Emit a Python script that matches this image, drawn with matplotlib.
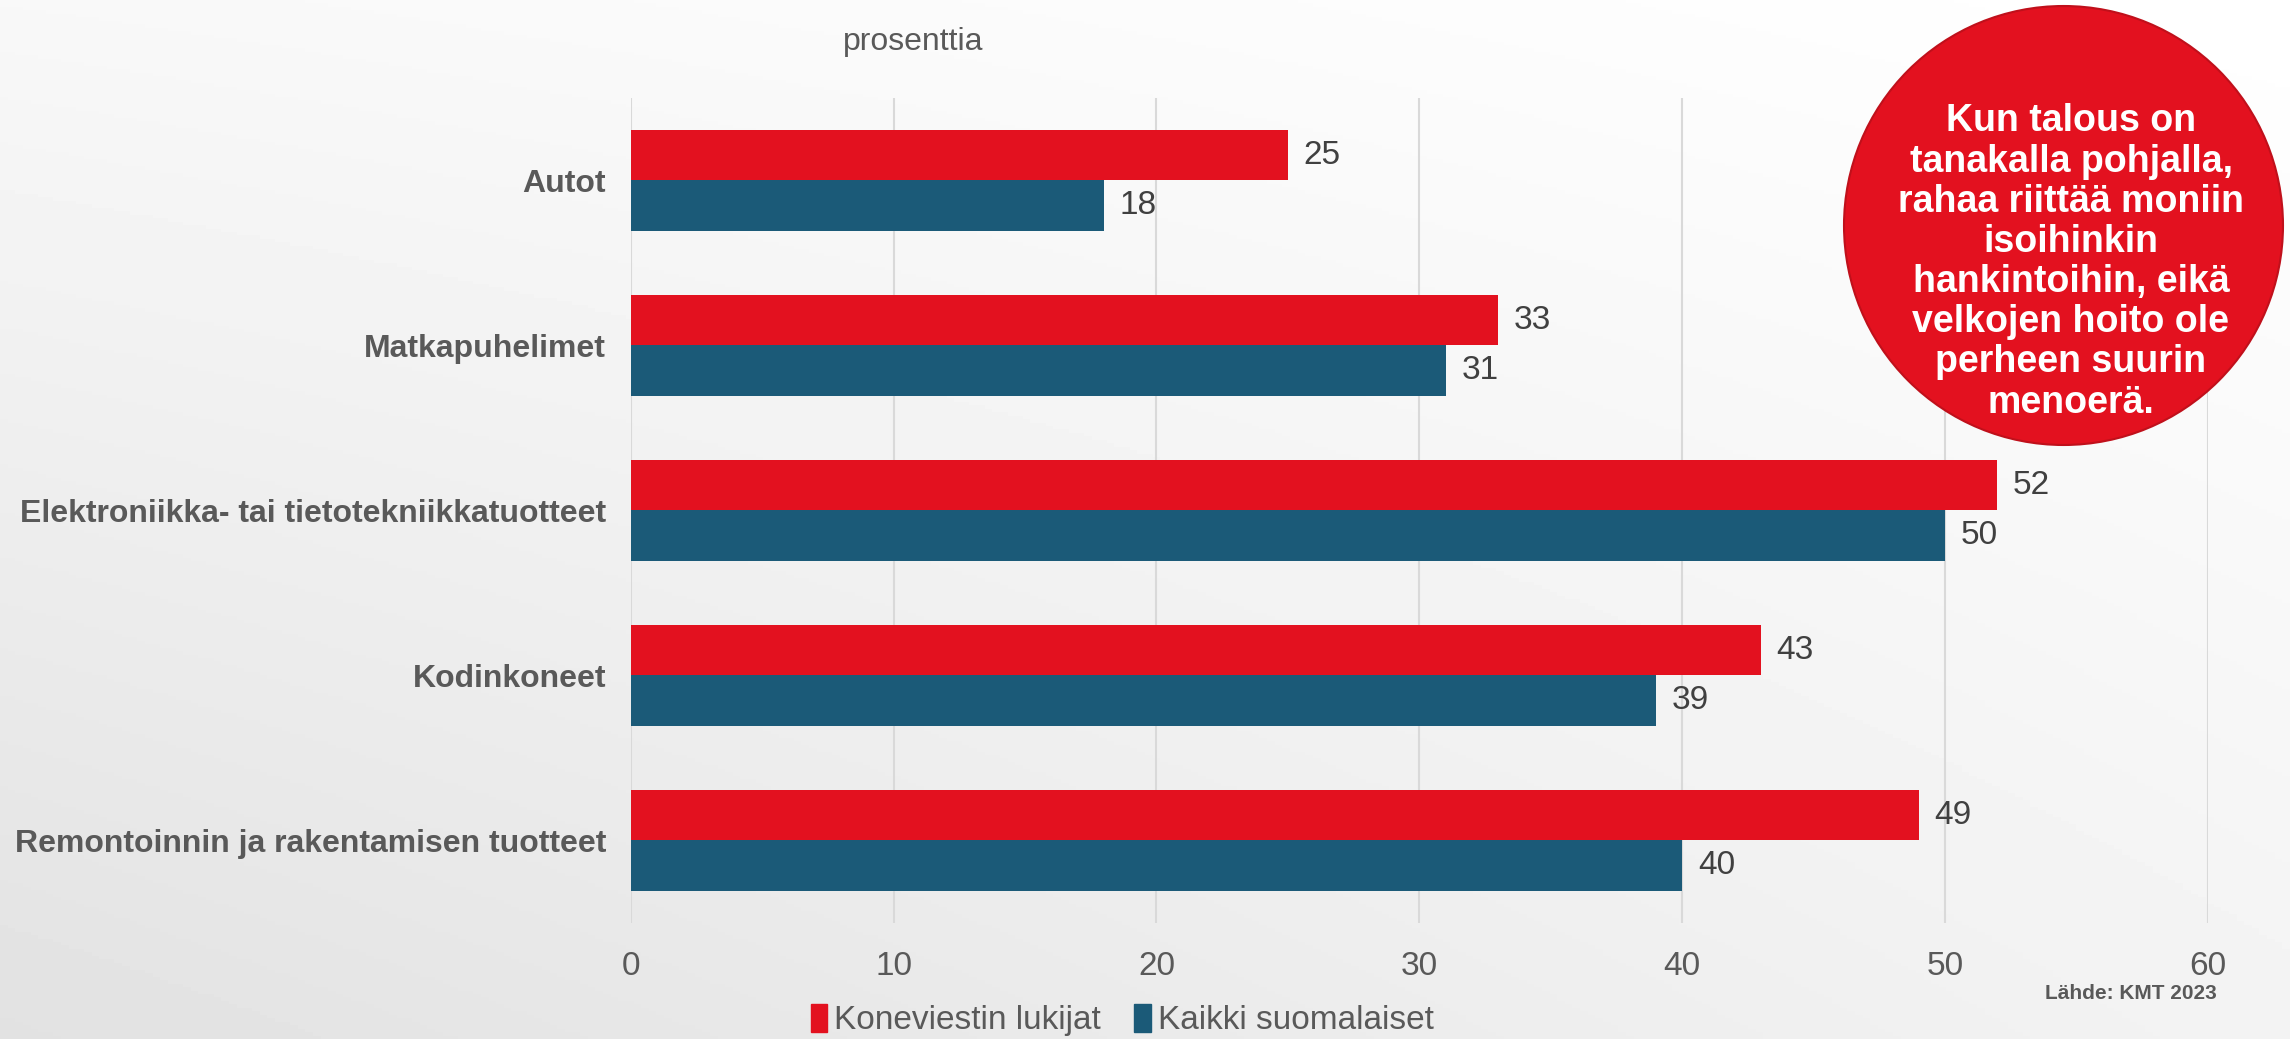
import numpy as np
import matplotlib
matplotlib.use("Agg")
import matplotlib.pyplot as plt
from matplotlib.patches import Circle, Patch

categories = ["Autot", "Matkapuhelimet", "Elektroniikka- tai tietotekniikkatuotteet",
              "Kodinkoneet", "Remontoinnin ja rakentamisen tuotteet"]
koneviesti = [25, 33, 52, 43, 49]
kaikki = [18, 31, 50, 39, 40]
series_names = ["Koneviestin lukijat", "Kaikki suomalaiset"]
xticks = [0, 10, 20, 30, 40, 50, 60]

RED = "#E3111F"
BLUE = "#1B5A78"
GREY = "#595959"

plt.rcParams['font.family'] = ['Liberation Sans', 'DejaVu Sans']

fig = plt.figure(figsize=(22.9, 10.39), dpi=100)

# taustan liukuväri: ylhäällä lähes valkoinen, vasen alakulma harmain
bg = fig.add_axes([0, 0, 1, 1], zorder=-10)
gx, gy = np.meshgrid(np.linspace(0, 1, 300), np.linspace(0, 1, 300))
down, left = gy, 1 - gx
dark = 0.047 * down + 0.027 * left + 0.041 * down * left
bg.imshow(1 - dark, cmap="gray", vmin=0, vmax=1, aspect="auto", extent=[0, 1, 0, 1])
bg.axis("off")

ax = fig.add_axes([0.2755, 0.1117, 0.6885, 0.794])
ax.patch.set_alpha(0)

y = np.arange(len(categories))
h = 0.306
ax.barh(y - h / 2, koneviesti, height=h, color=RED, label=series_names[0], zorder=3)
ax.barh(y + h / 2, kaikki, height=h, color=BLUE, label=series_names[1], zorder=3)

for yi, v in zip(y, koneviesti):
    ax.text(v + 0.6, yi - h / 2, str(v), va="center", ha="left", fontsize=24, color="#404040")
for yi, v in zip(y, kaikki):
    ax.text(v + 0.6, yi + h / 2, str(v), va="center", ha="left", fontsize=24, color="#404040")

ax.set_xlim(0, 60)
ax.set_ylim(4.5, -0.5)
ax.set_xticks(xticks)
ax.set_xticklabels([str(v) for v in xticks])
ax.set_yticks(y)
ax.set_yticklabels(categories, fontsize=23, fontweight="bold", color=GREY)
ax.tick_params(axis="x", labelsize=24, colors=GREY, length=0, pad=20)
ax.tick_params(axis="y", length=0, pad=18)
ax.grid(axis="x", color="#D9D9D9", linewidth=1.5, zorder=0)
for s in ax.spines.values():
    s.set_visible(False)

fig.text(0.399, 0.960, "prosenttia", fontsize=23, color=GREY, ha="center", va="center")
fig.text(0.968, 0.044, "Lähde: KMT 2023", fontsize=15, fontweight="bold", color=GREY,
         ha="right", va="center")

handles = [Patch(color=RED), Patch(color=BLUE)]
fig.legend(handles, series_names, loc="center", bbox_to_anchor=(0.49, 0.018), ncol=2,
           frameon=False, fontsize=24, labelcolor=GREY, handlelength=0.5, handleheight=0.9,
           handletextpad=0.2, columnspacing=1.0)

# punainen pallo tekstillä
r = 219.5
circ = Circle((2063.5, 1039 - 225.5), r, transform=None, facecolor=RED,
              edgecolor="#C0101B", linewidth=1.5, zorder=20)
fig.patches.append(circ)
fig.text(2071 / 2290, 1 - 262 / 1039,
         "Kun talous on\ntanakalla pohjalla,\nrahaa riittää moniin\nisoihinkin\n"
         "hankintoihin, eikä\nvelkojen hoito ole\nperheen suurin\nmenoerä.",
         fontsize=27, fontweight="bold", color="white", ha="center", va="center",
         linespacing=1.15, zorder=21)

fig.savefig("out.png", dpi=100)
